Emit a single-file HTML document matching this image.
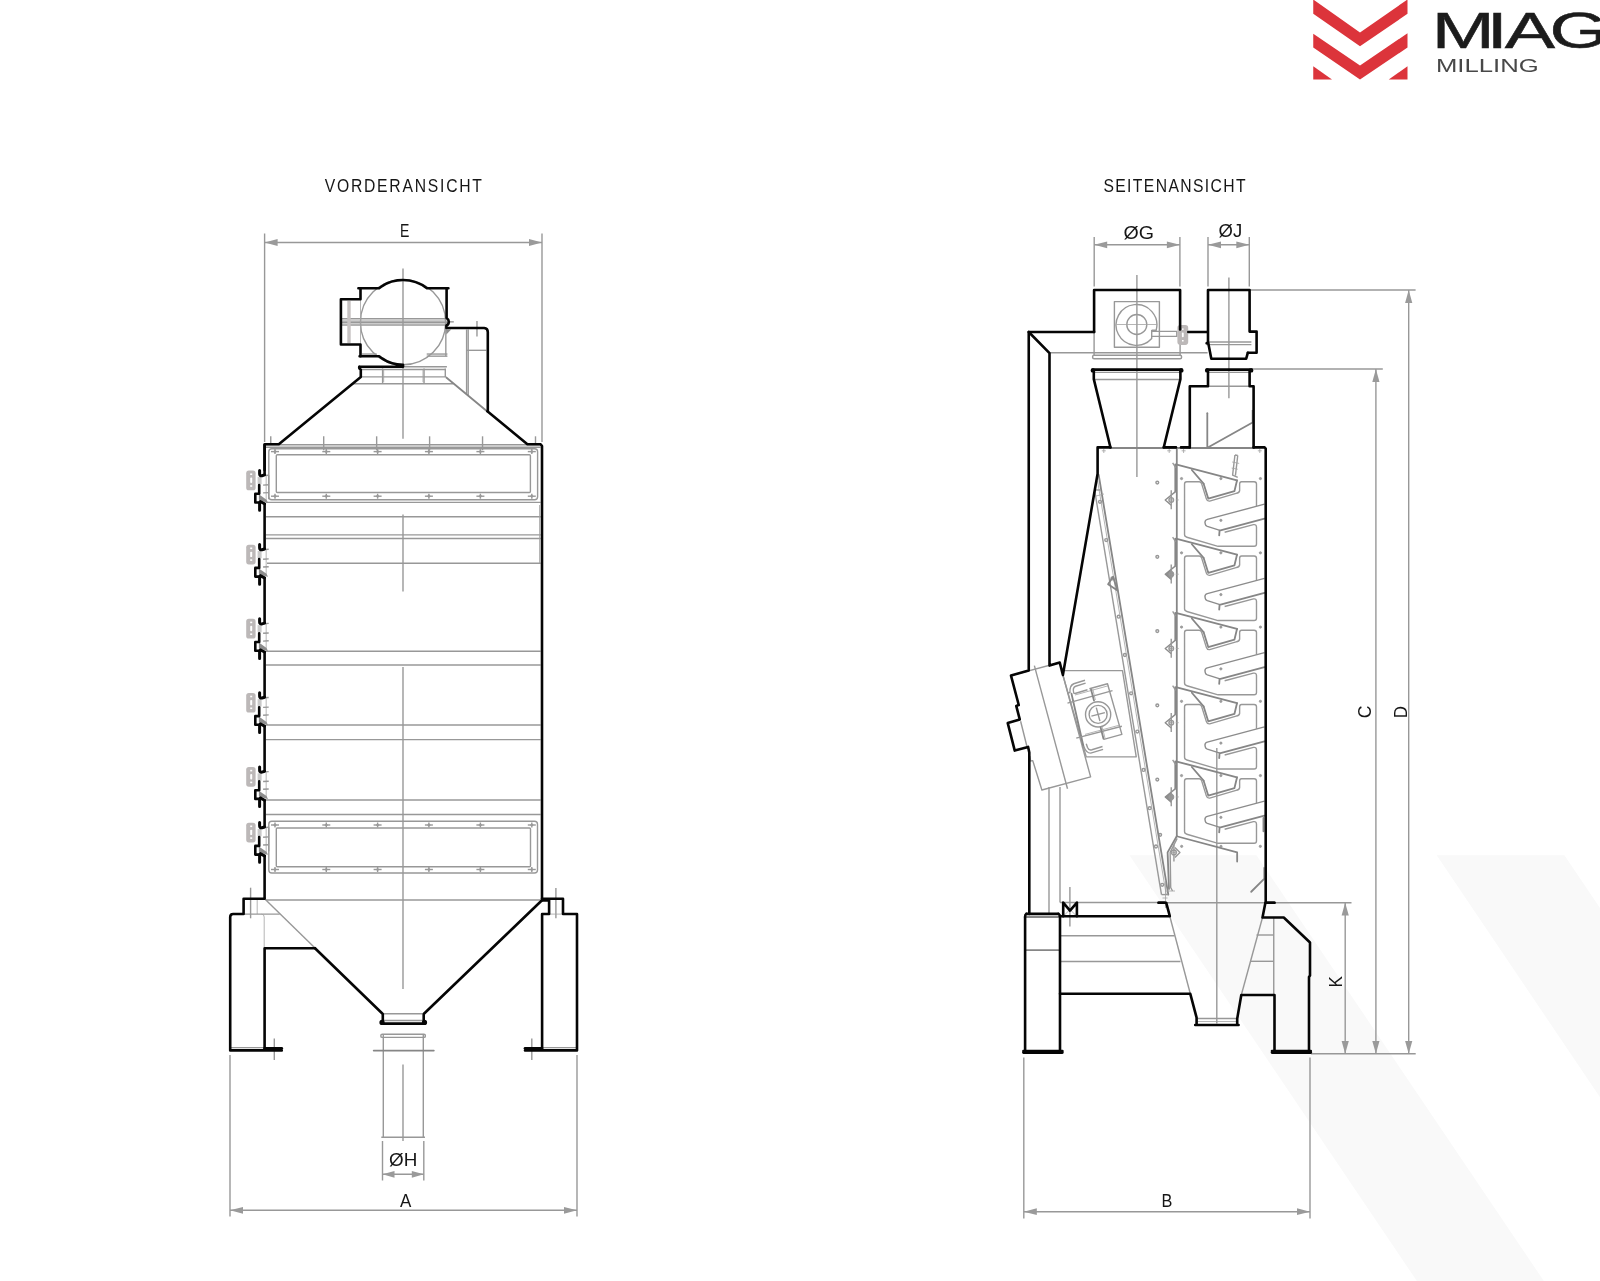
<!DOCTYPE html>
<html lang="de"><head><meta charset="utf-8"><title>MIAG Milling</title>
<style>
html,body{margin:0;padding:0;background:#fff;}
body{width:1600px;height:1281px;overflow:hidden;position:relative;font-family:"Liberation Sans",sans-serif;}
svg{position:absolute;left:0;top:0;display:block;will-change:transform}
.k{fill:none;stroke:#050505;stroke-width:2.6;stroke-linejoin:round;stroke-linecap:round}
.kb{fill:none;stroke:#050505;stroke-width:2.6;stroke-linejoin:miter;stroke-linecap:butt}
.g{fill:none;stroke:#989898;stroke-width:1.4;stroke-linejoin:round}
.g3{fill:none;stroke:#8c8c8c;stroke-width:1.4;stroke-linejoin:round}
.k3{fill:none;stroke:#050505;stroke-width:3;stroke-linejoin:round;stroke-linecap:round}
.g2{fill:none;stroke:#868686;stroke-width:1.8;stroke-linejoin:round;stroke-linecap:round}
.gt{fill:none;stroke:#a2a2a2;stroke-width:.8;stroke-linejoin:round}
.lg{fill:#c6c2c2;stroke:none}
.dg{fill:#8e8e8e;stroke:none}
.dg2{fill:#050505;stroke:none}
.ar{fill:#9a9a9a;stroke:none}
.wm{fill:#f9f9f9;stroke:none}
.t{font-family:"Liberation Sans",sans-serif;font-size:18.5px;fill:#161616;text-anchor:middle}
.tt{font-family:"Liberation Sans",sans-serif;font-size:18.5px;fill:#161616;text-anchor:middle;letter-spacing:2.06px}
.red{fill:#dc343b}
</style></head><body>
<svg width="1600" height="1281" viewBox="0 0 1600 1281">
<polygon class="wm" points="1129.5,855.3 1256.5,855.3 1543.85,1281 1416.85,1281"/>
<polygon class="wm" points="1436.7,855.3 1564.4,855.3 1600,908.04 1600,1097.23"/>
<polygon class="red" points="1313.25,-0.5 1360,32.5 1407.5,-0.5 1407.5,13.75 1360,46.25 1313.25,13.75"/>
<polygon class="red" points="1313.25,33.75 1360,65.5 1407.5,33.25 1407.5,47.5 1360,79.5 1313.25,47.5"/>
<polygon class="red" points="1313.25,66.25 1332,79.5 1313.25,79.5"/>
<polygon class="red" points="1407.5,66.25 1388.75,79.5 1407.5,79.5"/>
<text class="tt" transform="translate(404.2 191.8) scale(0.85 1)">VORDERANSICHT</text>
<text class="tt" style="letter-spacing:1.62px" transform="translate(1175.2 191.8) scale(0.85 1)">SEITENANSICHT</text>
<text transform="scale(1.49 1)" x="960.94 997.82 1009.97 1039.93" y="47.8" style="font-family:'Liberation Sans',sans-serif;font-size:50.7px;fill:#1c1c1c;stroke:#1c1c1c;stroke-width:.5">MIAG</text>
<text transform="scale(1.46 1)" x="983.49" y="71.7" style="font-family:'Liberation Sans',sans-serif;font-size:17.6px;fill:#484848">MILLING</text>
<line class="g" x1="264.6" y1="233.5" x2="264.6" y2="442"/>
<line class="g" x1="542" y1="233.5" x2="542" y2="442"/>
<line class="g" x1="264.6" y1="242.5" x2="542" y2="242.5"/>
<polygon class="ar" points="264.6,242.5 277.6,239.1 277.6,245.9"/>
<polygon class="ar" points="542,242.5 529,239.1 529,245.9"/>
<text class="t" transform="translate(404.6 236.9) scale(0.76 1)">E</text>
<line class="g" x1="403" y1="268.5" x2="403" y2="438.8"/>
<line class="g" x1="403" y1="514.5" x2="403" y2="591.5"/>
<line class="g" x1="403" y1="667" x2="403" y2="989"/>
<line class="g" x1="403" y1="1064.5" x2="403" y2="1141"/>
<circle class="g" cx="403.05" cy="322.2" r="42.6"/>
<line class="g" x1="340.63" y1="318.77" x2="447.96" y2="318.77"/>
<line class="g" x1="340.63" y1="321.11" x2="447.96" y2="321.11"/>
<line class="g" x1="340.63" y1="322.7" x2="447.96" y2="322.7"/>
<line class="g" x1="340.63" y1="325.04" x2="447.96" y2="325.04"/>
<line class="g" x1="447.96" y1="321.85" x2="453.8" y2="321.85"/>
<rect class="lg" x="347.3" y="301" width="3.4" height="42"/>
<line class="gt" x1="360.5" y1="300" x2="360.5" y2="344"/>
<polyline class="g" points="445.83,328.01 445.83,356.17"/>
<polyline class="g" points="426.71,356.17 447.43,356.17"/>
<polyline class="g" points="426.71,354.05 447.43,354.05"/>
<polyline class="g" points="361.88,354.05 376.76,354.05"/>
<polyline class="g" points="403.01,366.8 446.9,366.8"/>
<polyline class="g" points="445.3,368.4 445.3,376.9"/>
<polyline class="g" points="361.35,369.46 445.3,369.46"/>
<polyline class="g" points="361.35,376.9 445.3,376.9"/>
<polyline class="g" points="352.85,383.8 453.27,383.8"/>
<polyline class="g" points="382.6,368.4 382.6,383.8"/>
<polyline class="g" points="424.05,368.4 424.05,383.8"/>
<polyline class="gt" points="383.67,369.46 383.67,382.21"/>
<polyline class="gt" points="422.99,369.46 422.99,382.21"/>
<polygon class="dg" points="446.05,329.61 451.15,329.61 446.37,334.39"/>
<line class="g" x1="466.6" y1="329.6" x2="466.6" y2="393.8"/>
<line class="g" x1="468.2" y1="329.6" x2="468.2" y2="395.2"/>
<polyline class="g" points="467.09,350.33 486.22,350.33"/>
<polyline class="g" points="476.97,321.11 476.97,336.51"/>
<line class="g2" x1="446.3" y1="377.5" x2="487" y2="411.25"/>
<line class="g" x1="266" y1="444.8" x2="540.5" y2="444.8"/>
<line class="g" x1="266" y1="447.3" x2="540.5" y2="447.3"/>
<rect class="g" x="268.8" y="448.8" width="268.8" height="50.9" rx="3"/>
<rect class="g" x="276.3" y="454.8" width="254.1" height="37.7" rx="1"/>
<line class="g" x1="271" y1="451.6" x2="279" y2="451.6"/>
<line class="g" x1="275" y1="449.1" x2="275" y2="454.1"/>
<polygon class="ar" points="273,451.6 275,450 277,451.6 275,453.2"/>
<line class="g" x1="271" y1="496.2" x2="279" y2="496.2"/>
<line class="g" x1="275" y1="493.7" x2="275" y2="498.7"/>
<polygon class="ar" points="273,496.2 275,494.6 277,496.2 275,497.8"/>
<line class="g" x1="322.3" y1="451.6" x2="330.3" y2="451.6"/>
<line class="g" x1="326.3" y1="449.1" x2="326.3" y2="454.1"/>
<polygon class="ar" points="324.3,451.6 326.3,450 328.3,451.6 326.3,453.2"/>
<line class="g" x1="322.3" y1="496.2" x2="330.3" y2="496.2"/>
<line class="g" x1="326.3" y1="493.7" x2="326.3" y2="498.7"/>
<polygon class="ar" points="324.3,496.2 326.3,494.6 328.3,496.2 326.3,497.8"/>
<line class="g" x1="373.6" y1="451.6" x2="381.6" y2="451.6"/>
<line class="g" x1="377.6" y1="449.1" x2="377.6" y2="454.1"/>
<polygon class="ar" points="375.6,451.6 377.6,450 379.6,451.6 377.6,453.2"/>
<line class="g" x1="373.6" y1="496.2" x2="381.6" y2="496.2"/>
<line class="g" x1="377.6" y1="493.7" x2="377.6" y2="498.7"/>
<polygon class="ar" points="375.6,496.2 377.6,494.6 379.6,496.2 377.6,497.8"/>
<line class="g" x1="424.9" y1="451.6" x2="432.9" y2="451.6"/>
<line class="g" x1="428.9" y1="449.1" x2="428.9" y2="454.1"/>
<polygon class="ar" points="426.9,451.6 428.9,450 430.9,451.6 428.9,453.2"/>
<line class="g" x1="424.9" y1="496.2" x2="432.9" y2="496.2"/>
<line class="g" x1="428.9" y1="493.7" x2="428.9" y2="498.7"/>
<polygon class="ar" points="426.9,496.2 428.9,494.6 430.9,496.2 428.9,497.8"/>
<line class="g" x1="476.4" y1="451.6" x2="484.4" y2="451.6"/>
<line class="g" x1="480.4" y1="449.1" x2="480.4" y2="454.1"/>
<polygon class="ar" points="478.4,451.6 480.4,450 482.4,451.6 480.4,453.2"/>
<line class="g" x1="476.4" y1="496.2" x2="484.4" y2="496.2"/>
<line class="g" x1="480.4" y1="493.7" x2="480.4" y2="498.7"/>
<polygon class="ar" points="478.4,496.2 480.4,494.6 482.4,496.2 480.4,497.8"/>
<line class="g" x1="527.8" y1="451.6" x2="535.8" y2="451.6"/>
<line class="g" x1="531.8" y1="449.1" x2="531.8" y2="454.1"/>
<polygon class="ar" points="529.8,451.6 531.8,450 533.8,451.6 531.8,453.2"/>
<line class="g" x1="527.8" y1="496.2" x2="535.8" y2="496.2"/>
<line class="g" x1="531.8" y1="493.7" x2="531.8" y2="498.7"/>
<polygon class="ar" points="529.8,496.2 531.8,494.6 533.8,496.2 531.8,497.8"/>
<line class="g" x1="270.75" y1="436.3" x2="270.75" y2="443.3"/>
<line class="g" x1="323.7" y1="436.3" x2="323.7" y2="450.2"/>
<line class="g" x1="376.65" y1="436.3" x2="376.65" y2="450.2"/>
<line class="g" x1="429.6" y1="436.3" x2="429.6" y2="450.2"/>
<line class="g" x1="482.55" y1="436.3" x2="482.55" y2="450.2"/>
<line class="g" x1="535.5" y1="436.3" x2="535.5" y2="443.3"/>
<rect class="g" x="268.8" y="821.3" width="268.7" height="51.7" rx="3"/>
<rect class="g" x="276.3" y="828" width="254.2" height="38.8" rx="1"/>
<line class="g" x1="271" y1="825" x2="279" y2="825"/>
<line class="g" x1="275" y1="822.5" x2="275" y2="827.5"/>
<polygon class="ar" points="273,825 275,823.4 277,825 275,826.6"/>
<line class="g" x1="271" y1="869.5" x2="279" y2="869.5"/>
<line class="g" x1="275" y1="867" x2="275" y2="872"/>
<polygon class="ar" points="273,869.5 275,867.9 277,869.5 275,871.1"/>
<line class="g" x1="322.3" y1="825" x2="330.3" y2="825"/>
<line class="g" x1="326.3" y1="822.5" x2="326.3" y2="827.5"/>
<polygon class="ar" points="324.3,825 326.3,823.4 328.3,825 326.3,826.6"/>
<line class="g" x1="322.3" y1="869.5" x2="330.3" y2="869.5"/>
<line class="g" x1="326.3" y1="867" x2="326.3" y2="872"/>
<polygon class="ar" points="324.3,869.5 326.3,867.9 328.3,869.5 326.3,871.1"/>
<line class="g" x1="373.6" y1="825" x2="381.6" y2="825"/>
<line class="g" x1="377.6" y1="822.5" x2="377.6" y2="827.5"/>
<polygon class="ar" points="375.6,825 377.6,823.4 379.6,825 377.6,826.6"/>
<line class="g" x1="373.6" y1="869.5" x2="381.6" y2="869.5"/>
<line class="g" x1="377.6" y1="867" x2="377.6" y2="872"/>
<polygon class="ar" points="375.6,869.5 377.6,867.9 379.6,869.5 377.6,871.1"/>
<line class="g" x1="424.9" y1="825" x2="432.9" y2="825"/>
<line class="g" x1="428.9" y1="822.5" x2="428.9" y2="827.5"/>
<polygon class="ar" points="426.9,825 428.9,823.4 430.9,825 428.9,826.6"/>
<line class="g" x1="424.9" y1="869.5" x2="432.9" y2="869.5"/>
<line class="g" x1="428.9" y1="867" x2="428.9" y2="872"/>
<polygon class="ar" points="426.9,869.5 428.9,867.9 430.9,869.5 428.9,871.1"/>
<line class="g" x1="476.4" y1="825" x2="484.4" y2="825"/>
<line class="g" x1="480.4" y1="822.5" x2="480.4" y2="827.5"/>
<polygon class="ar" points="478.4,825 480.4,823.4 482.4,825 480.4,826.6"/>
<line class="g" x1="476.4" y1="869.5" x2="484.4" y2="869.5"/>
<line class="g" x1="480.4" y1="867" x2="480.4" y2="872"/>
<polygon class="ar" points="478.4,869.5 480.4,867.9 482.4,869.5 480.4,871.1"/>
<line class="g" x1="527.8" y1="825" x2="535.8" y2="825"/>
<line class="g" x1="531.8" y1="822.5" x2="531.8" y2="827.5"/>
<polygon class="ar" points="529.8,825 531.8,823.4 533.8,825 531.8,826.6"/>
<line class="g" x1="527.8" y1="869.5" x2="535.8" y2="869.5"/>
<line class="g" x1="531.8" y1="867" x2="531.8" y2="872"/>
<polygon class="ar" points="529.8,869.5 531.8,867.9 533.8,869.5 531.8,871.1"/>
<line class="g" x1="266" y1="502.4" x2="540.6" y2="502.4"/>
<line class="g" x1="266" y1="516.8" x2="540.6" y2="516.8"/>
<line class="g" x1="266" y1="534.9" x2="540.6" y2="534.9"/>
<line class="g" x1="266" y1="538.5" x2="540.6" y2="538.5"/>
<line class="g" x1="266" y1="563.3" x2="540.6" y2="563.3"/>
<line class="g" x1="266" y1="651.3" x2="540.6" y2="651.3"/>
<line class="g" x1="266" y1="665" x2="540.6" y2="665"/>
<line class="g" x1="266" y1="725" x2="540.6" y2="725"/>
<line class="g" x1="266" y1="739.6" x2="540.6" y2="739.6"/>
<line class="g" x1="266" y1="800" x2="540.6" y2="800"/>
<line class="g" x1="266" y1="814.5" x2="540.6" y2="814.5"/>
<line class="gt" x1="539.5" y1="505" x2="539.5" y2="563"/>
<line class="g" x1="266" y1="900" x2="540" y2="900"/>
<rect fill="#bcb8b8" x="246.2" y="470.6" width="9.4" height="19.7" rx="2.6"/>
<rect fill="#fff" x="250.2" y="477.6" width="2" height="5.4" rx=".9"/>
<rect fill="#fff" x="250.2" y="473.4" width="2" height="1.6"/>
<rect fill="#fff" x="250.2" y="485.2" width="2" height="1.6"/>
<rect fill="#c9c9c9" x="257.6" y="476.9" width="4" height="7.2"/>
<rect fill="#cfcfcf" x="265.5" y="475.5" width="1.5" height="26.3"/>
<line class="g" x1="263.1" y1="475.5" x2="268.7" y2="475.2"/>
<line class="g" x1="263.1" y1="485.1" x2="268.7" y2="484.8"/>
<line class="g" x1="263.1" y1="492.9" x2="268.7" y2="492.6"/>
<polygon class="dg" points="258.9,494.3 266.5,499.7 268,502.7 265.5,502.2 258.9,499.7"/>
<line class="g" x1="268.7" y1="475.2" x2="268.7" y2="499.2"/>
<rect fill="#bcb8b8" x="246.2" y="544.7" width="9.4" height="19.7" rx="2.6"/>
<rect fill="#fff" x="250.2" y="551.7" width="2" height="5.4" rx=".9"/>
<rect fill="#fff" x="250.2" y="547.5" width="2" height="1.6"/>
<rect fill="#fff" x="250.2" y="559.3" width="2" height="1.6"/>
<rect fill="#c9c9c9" x="257.6" y="551" width="4" height="7.2"/>
<rect fill="#cfcfcf" x="265.5" y="549.6" width="1.5" height="26.3"/>
<line class="g" x1="263.1" y1="549.6" x2="268.7" y2="549.3"/>
<line class="g" x1="263.1" y1="559.2" x2="268.7" y2="558.9"/>
<line class="g" x1="263.1" y1="567" x2="268.7" y2="566.7"/>
<polygon class="dg" points="258.9,568.4 266.5,573.8 268,576.8 265.5,576.3 258.9,573.8"/>
<rect fill="#bcb8b8" x="246.2" y="618.8" width="9.4" height="19.7" rx="2.6"/>
<rect fill="#fff" x="250.2" y="625.8" width="2" height="5.4" rx=".9"/>
<rect fill="#fff" x="250.2" y="621.6" width="2" height="1.6"/>
<rect fill="#fff" x="250.2" y="633.4" width="2" height="1.6"/>
<rect fill="#c9c9c9" x="257.6" y="625.1" width="4" height="7.2"/>
<rect fill="#cfcfcf" x="265.5" y="623.7" width="1.5" height="26.3"/>
<line class="g" x1="263.1" y1="623.7" x2="268.7" y2="623.4"/>
<line class="g" x1="263.1" y1="633.3" x2="268.7" y2="633"/>
<line class="g" x1="263.1" y1="641.1" x2="268.7" y2="640.8"/>
<polygon class="dg" points="258.9,642.5 266.5,647.9 268,650.9 265.5,650.4 258.9,647.9"/>
<rect fill="#bcb8b8" x="246.2" y="692.9" width="9.4" height="19.7" rx="2.6"/>
<rect fill="#fff" x="250.2" y="699.9" width="2" height="5.4" rx=".9"/>
<rect fill="#fff" x="250.2" y="695.7" width="2" height="1.6"/>
<rect fill="#fff" x="250.2" y="707.5" width="2" height="1.6"/>
<rect fill="#c9c9c9" x="257.6" y="699.2" width="4" height="7.2"/>
<rect fill="#cfcfcf" x="265.5" y="697.8" width="1.5" height="26.3"/>
<line class="g" x1="263.1" y1="697.8" x2="268.7" y2="697.5"/>
<line class="g" x1="263.1" y1="707.4" x2="268.7" y2="707.1"/>
<line class="g" x1="263.1" y1="715.2" x2="268.7" y2="714.9"/>
<polygon class="dg" points="258.9,716.6 266.5,722 268,725 265.5,724.5 258.9,722"/>
<rect fill="#bcb8b8" x="246.2" y="767" width="9.4" height="19.7" rx="2.6"/>
<rect fill="#fff" x="250.2" y="774" width="2" height="5.4" rx=".9"/>
<rect fill="#fff" x="250.2" y="769.8" width="2" height="1.6"/>
<rect fill="#fff" x="250.2" y="781.6" width="2" height="1.6"/>
<rect fill="#c9c9c9" x="257.6" y="773.3" width="4" height="7.2"/>
<rect fill="#cfcfcf" x="265.5" y="771.9" width="1.5" height="26.3"/>
<line class="g" x1="263.1" y1="771.9" x2="268.7" y2="771.6"/>
<line class="g" x1="263.1" y1="781.5" x2="268.7" y2="781.2"/>
<line class="g" x1="263.1" y1="789.3" x2="268.7" y2="789"/>
<polygon class="dg" points="258.9,790.7 266.5,796.1 268,799.1 265.5,798.6 258.9,796.1"/>
<rect fill="#bcb8b8" x="246.2" y="822.7" width="9.4" height="19.7" rx="2.6"/>
<rect fill="#fff" x="250.2" y="829.7" width="2" height="5.4" rx=".9"/>
<rect fill="#fff" x="250.2" y="825.5" width="2" height="1.6"/>
<rect fill="#fff" x="250.2" y="837.3" width="2" height="1.6"/>
<rect fill="#c9c9c9" x="257.6" y="829" width="4" height="7.2"/>
<rect fill="#cfcfcf" x="265.5" y="827.6" width="1.5" height="26.3"/>
<line class="g" x1="263.1" y1="827.6" x2="268.7" y2="827.3"/>
<line class="g" x1="263.1" y1="837.2" x2="268.7" y2="836.9"/>
<line class="g" x1="263.1" y1="845" x2="268.7" y2="844.7"/>
<polygon class="dg" points="258.9,846.4 266.5,851.8 268,854.8 265.5,854.3 258.9,851.8"/>
<line class="g" x1="268.7" y1="827.3" x2="268.7" y2="851.3"/>
<line class="g" x1="265.1" y1="899.3" x2="315" y2="948"/>
<polygon class="dg2" points="540.6,899.4 549.2,899.4 549.2,901.8 540,901.8"/>
<line class="g" x1="250.6" y1="887.7" x2="250.6" y2="918.3"/>
<line class="gt" x1="257.2" y1="900" x2="257.2" y2="914"/>
<line class="g" x1="244" y1="914.1" x2="279.7" y2="914.1"/>
<path class="gt" d="M261.5,914.1 Q264.2,914.3 264.2,917 V947"/>
<line class="g" x1="555.9" y1="888" x2="555.9" y2="918.3"/>
<line class="gt" x1="549.5" y1="914.1" x2="562.5" y2="914.1"/>
<line class="g" x1="274.3" y1="1038.5" x2="274.3" y2="1060"/>
<line class="g" x1="531.8" y1="1038.5" x2="531.8" y2="1060"/>
<line class="g" x1="231" y1="1047.6" x2="264" y2="1047.6"/>
<line class="g" x1="543" y1="1047.6" x2="577" y2="1047.6"/>
<line class="g" x1="384" y1="1013.8" x2="422.5" y2="1013.8"/>
<line class="g" x1="384" y1="1020.5" x2="422.5" y2="1020.5"/>
<rect class="g" x="380.8" y="1034.3" width="44.6" height="3.1" rx="1.5"/>
<line class="g" x1="383.3" y1="1035" x2="383.3" y2="1137.3"/>
<line class="g" x1="423.3" y1="1035" x2="423.3" y2="1137.3"/>
<line class="g2" x1="373.7" y1="1050.6" x2="433.8" y2="1050.6"/>
<line class="g" x1="381.3" y1="1137.3" x2="425" y2="1137.3"/>
<line class="g" x1="382.5" y1="1141" x2="382.5" y2="1180.5"/>
<line class="g" x1="423.8" y1="1141" x2="423.8" y2="1180.5"/>
<line class="g" x1="382.5" y1="1174.3" x2="423.8" y2="1174.3"/>
<polygon class="ar" points="382.5,1174.3 394.5,1170.9 394.5,1177.7"/>
<polygon class="ar" points="423.8,1174.3 411.8,1170.9 411.8,1177.7"/>
<text class="t" transform="translate(403.2 1166) scale(1.02 1)">ØH</text>
<line class="g" x1="230" y1="1055" x2="230" y2="1216.5"/>
<line class="g" x1="577" y1="1055" x2="577" y2="1216.5"/>
<line class="g" x1="230" y1="1210.3" x2="577" y2="1210.3"/>
<polygon class="ar" points="230,1210.3 243,1206.9 243,1213.7"/>
<polygon class="ar" points="577,1210.3 564,1206.9 564,1213.7"/>
<text class="t" transform="translate(405.6 1207.3) scale(0.92 1)">A</text>
<line class="g" x1="1094.2" y1="236.9" x2="1094.2" y2="286.5"/>
<line class="g" x1="1179.9" y1="236.9" x2="1179.9" y2="286.5"/>
<line class="g" x1="1094.2" y1="244.8" x2="1179.9" y2="244.8"/>
<polygon class="ar" points="1094.2,244.8 1107.2,241.4 1107.2,248.2"/>
<polygon class="ar" points="1179.9,244.8 1166.9,241.4 1166.9,248.2"/>
<line class="g" x1="1208" y1="236.9" x2="1208" y2="286.5"/>
<line class="g" x1="1249.3" y1="236.9" x2="1249.3" y2="286.5"/>
<line class="g" x1="1208" y1="244.8" x2="1249.3" y2="244.8"/>
<polygon class="ar" points="1208,244.8 1221,241.4 1221,248.2"/>
<polygon class="ar" points="1249.3,244.8 1236.3,241.4 1236.3,248.2"/>
<text class="t" transform="translate(1138.7 239.3) scale(1.06 1)">ØG</text>
<text class="t" transform="translate(1230.4 237) scale(1 1)">ØJ</text>
<line class="g" x1="1136.9" y1="275" x2="1136.9" y2="477"/>
<line class="g" x1="1228.9" y1="277.5" x2="1228.9" y2="398.3"/>
<line class="g" x1="1216.8" y1="748" x2="1216.8" y2="1023.5"/>
<line class="g" x1="1250" y1="290" x2="1415.6" y2="290"/>
<line class="g" x1="1252" y1="369" x2="1382.8" y2="369"/>
<line class="g" x1="1311" y1="1053.8" x2="1415.7" y2="1053.8"/>
<line class="g" x1="1275" y1="902.7" x2="1351.5" y2="902.7"/>
<line class="g" x1="1345.2" y1="902.7" x2="1345.2" y2="1053.8"/>
<polygon class="ar" points="1345.2,902.7 1341.6,915.6 1348.8,915.6"/>
<polygon class="ar" points="1345.2,1053.8 1341.6,1040.9 1348.8,1040.9"/>
<line class="g" x1="1375.9" y1="369" x2="1375.9" y2="1053.8"/>
<polygon class="ar" points="1375.9,369 1372.3,381.9 1379.5,381.9"/>
<polygon class="ar" points="1375.9,1053.8 1372.3,1040.9 1379.5,1040.9"/>
<line class="g" x1="1408.7" y1="290" x2="1408.7" y2="1053.8"/>
<polygon class="ar" points="1408.7,290 1405.1,302.9 1412.3,302.9"/>
<polygon class="ar" points="1408.7,1053.8 1405.1,1040.9 1412.3,1040.9"/>
<text class="t" transform="translate(1371.3 712) rotate(-90) scale(0.95 1)">C</text>
<text class="t" transform="translate(1406.7 712.2) rotate(-90) scale(0.92 1)">D</text>
<text class="t" transform="translate(1342.2 981.9) rotate(-90) scale(0.92 1)">K</text>
<line class="g" x1="1023.8" y1="1057.5" x2="1023.8" y2="1218.5"/>
<line class="g" x1="1310" y1="1057.5" x2="1310" y2="1218.5"/>
<line class="g" x1="1023.8" y1="1211.7" x2="1310" y2="1211.7"/>
<polygon class="ar" points="1023.8,1211.7 1036.8,1208.3 1036.8,1215.1"/>
<polygon class="ar" points="1310,1211.7 1297,1208.3 1297,1215.1"/>
<text class="t" transform="translate(1167 1207.3) scale(0.88 1)">B</text>
<line class="g" x1="1049.5" y1="352.8" x2="1207.6" y2="352.8"/>
<line class="g" x1="1049" y1="787" x2="1049" y2="913"/>
<line class="g" x1="1060" y1="787" x2="1060" y2="902.5"/>
<line class="g" x1="1060" y1="902.5" x2="1166" y2="902.5"/>
<line class="g" x1="1167" y1="902.7" x2="1265" y2="902.7"/>
<line class="g" x1="1094.1" y1="331.6" x2="1094.1" y2="356"/>
<line class="g" x1="1180.1" y1="329.5" x2="1180.1" y2="356"/>
<rect class="g" x="1092.6" y="355.3" width="89" height="3.4" rx="1.5"/>
<rect class="g" x="1114.4" y="301.6" width="45" height="45.6"/>
<circle class="g" cx="1136.8" cy="324.5" r="10"/>
<path class="g" d="M1151.7,330.1 H1156.2 A20.4,20.4 0 1 0 1151.7,338.5 V330.1 M1151.7,331.4 H1176.8 V336.4 H1151.7"/>
<line class="gt" x1="1116.4" y1="324.5" x2="1157" y2="324.5"/>
<rect fill="#bcb8b8" x="1177.4" y="324.9" width="10.8" height="20" rx="2.8"/>
<rect fill="#fff" x="1181.9" y="332.6" width="1.8" height="4.6" rx=".8"/>
<rect fill="#fff" x="1182" y="328.4" width="1.6" height="1.5"/>
<rect fill="#fff" x="1182" y="340" width="1.6" height="1.5"/>
<line class="g" x1="1206.5" y1="342" x2="1251.4" y2="342"/>
<line class="g" x1="1206.5" y1="344.6" x2="1251.4" y2="344.6"/>
<line class="gt" x1="1208.5" y1="290.5" x2="1208.5" y2="342"/>
<line class="g" x1="1094" y1="372.4" x2="1180" y2="372.4"/>
<line class="g" x1="1094" y1="379.5" x2="1180" y2="379.5"/>
<line class="g" x1="1208" y1="372.4" x2="1249.6" y2="372.4"/>
<line class="g" x1="1208" y1="386.2" x2="1249.6" y2="386.2"/>
<line class="g2" x1="1208.3" y1="447.3" x2="1252.1" y2="422.8"/>
<line class="g2" x1="1207.3" y1="413.2" x2="1207.3" y2="447.3"/>
<line class="g" x1="1252.4" y1="410" x2="1252.4" y2="423"/>
<line class="g2" x1="1110" y1="448" x2="1254" y2="448"/>
<line class="g2" x1="1176.8" y1="449" x2="1176.8" y2="836"/>
<line class="g2" x1="1175.3" y1="464.5" x2="1175.3" y2="491.3"/>
<line class="g2" x1="1175.3" y1="538.75" x2="1175.3" y2="565.55"/>
<line class="g2" x1="1175.3" y1="613" x2="1175.3" y2="639.8"/>
<line class="g2" x1="1175.3" y1="687.25" x2="1175.3" y2="714.05"/>
<line class="g2" x1="1175.3" y1="761.5" x2="1175.3" y2="788.3"/>
<line class="gt" x1="1103.8" y1="449" x2="1103.8" y2="453"/>
<line class="gt" x1="1101.8" y1="450.8" x2="1105.8" y2="450.8"/>
<line class="gt" x1="1169.2" y1="449" x2="1169.2" y2="453"/>
<line class="gt" x1="1167.2" y1="450.8" x2="1171.2" y2="450.8"/>
<line class="gt" x1="1183.6" y1="449" x2="1183.6" y2="453"/>
<line class="gt" x1="1181.6" y1="450.8" x2="1185.6" y2="450.8"/>
<line class="gt" x1="1259.8" y1="449" x2="1259.8" y2="453"/>
<line class="gt" x1="1257.8" y1="450.8" x2="1261.8" y2="450.8"/>
<polyline class="g2" points="1176.86,464.54 1237,480.47"/>
<polyline class="g2" points="1191.85,469.98 1203.56,483.56"/>
<polyline class="g2" points="1203.56,483.56 1208.24,498.55 1234.47,491.05 1237,480.47"/>
<polyline class="g" points="1172.65,462.95 1175.74,467.63"/>
<path class="g" d="M1256.49,506.04 L1256.49,484.03 Q1256.49,481.69 1254.15,481.69 L1241.5,481.69 Q1239.63,481.69 1239.63,484.03 L1239.63,490.59 Q1239.44,492.65 1236.07,493.4 L1209.65,501.08 Q1207.12,501.36 1206.37,498.83 L1201.69,483.84 Q1201.22,481.69 1199.34,481.69 L1186.7,481.69 Q1184.54,481.69 1184.54,484.03 L1184.54,534.61 Q1184.54,536.67 1186.89,537.24 L1218.08,546.32 L1254.15,546.32 Q1256.49,546.32 1256.49,543.98 L1256.49,527.12 Q1256.3,524.12 1253.49,524.68 L1224.64,532.27"/>
<path class="g3" d="M1264.45,504.17 L1207.31,519.44 Q1204.78,520.19 1204.96,522.44 L1205.34,524.31 Q1205.53,525.71 1207.31,526.37 L1219.95,530.4"/>
<polyline class="g2" points="1219.2,535.36 1219.58,530.68 1264.45,518.69"/>
<circle cx="1181.55" cy="478.59" r="1.15" fill="#a0a0a0" stroke="#8c8c8c" stroke-width=".7"/>
<circle cx="1220.89" cy="478.59" r="1.15" fill="#a0a0a0" stroke="#8c8c8c" stroke-width=".7"/>
<circle cx="1260.42" cy="478.59" r="1.15" fill="#a0a0a0" stroke="#8c8c8c" stroke-width=".7"/>
<circle cx="1220.89" cy="520.37" r="1.15" fill="#a0a0a0" stroke="#8c8c8c" stroke-width=".7"/>
<circle class="g" cx="1171.24" cy="499.95" r="2.3"/>
<polyline class="g3" points="1171.24,505.35 1165.24,499.95 1176.44,490.85"/>
<line class="gt" x1="1168.94" y1="499.95" x2="1173.54" y2="499.95"/>
<line class="gt" x1="1175.74" y1="499.95" x2="1178.74" y2="499.95"/>
<line class="g" x1="1171.24" y1="490.35" x2="1171.24" y2="509.15"/>
<circle class="g" cx="1157.3" cy="482.58" r="1.4"/>
<polyline class="g2" points="1176.86,538.79 1237,554.72"/>
<polyline class="g2" points="1191.85,544.23 1203.56,557.81"/>
<polyline class="g2" points="1203.56,557.81 1208.24,572.8 1234.47,565.3 1237,554.72"/>
<polyline class="g" points="1172.65,537.2 1175.74,541.88"/>
<path class="g" d="M1256.49,580.29 L1256.49,558.28 Q1256.49,555.94 1254.15,555.94 L1241.5,555.94 Q1239.63,555.94 1239.63,558.28 L1239.63,564.84 Q1239.44,566.9 1236.07,567.65 L1209.65,575.33 Q1207.12,575.61 1206.37,573.08 L1201.69,558.09 Q1201.22,555.94 1199.34,555.94 L1186.7,555.94 Q1184.54,555.94 1184.54,558.28 L1184.54,608.86 Q1184.54,610.92 1186.89,611.49 L1218.08,620.57 L1254.15,620.57 Q1256.49,620.57 1256.49,618.23 L1256.49,601.37 Q1256.3,598.37 1253.49,598.93 L1224.64,606.52"/>
<path class="g3" d="M1264.45,578.42 L1207.31,593.69 Q1204.78,594.44 1204.96,596.69 L1205.34,598.56 Q1205.53,599.96 1207.31,600.62 L1219.95,604.65"/>
<polyline class="g2" points="1219.2,609.61 1219.58,604.93 1264.45,592.94"/>
<circle cx="1181.55" cy="552.84" r="1.15" fill="#a0a0a0" stroke="#8c8c8c" stroke-width=".7"/>
<circle cx="1220.89" cy="552.84" r="1.15" fill="#a0a0a0" stroke="#8c8c8c" stroke-width=".7"/>
<circle cx="1260.42" cy="552.84" r="1.15" fill="#a0a0a0" stroke="#8c8c8c" stroke-width=".7"/>
<circle cx="1220.89" cy="594.62" r="1.15" fill="#a0a0a0" stroke="#8c8c8c" stroke-width=".7"/>
<polygon class="dg" points="1165.24,574.2 1171.24,569.2 1174.24,574.2 1171.24,579.6"/>
<circle class="g" cx="1171.24" cy="574.2" r="2.3"/>
<polyline class="g3" points="1171.24,579.6 1165.24,574.2 1176.44,565.1"/>
<line class="gt" x1="1168.94" y1="574.2" x2="1173.54" y2="574.2"/>
<line class="gt" x1="1175.74" y1="574.2" x2="1178.74" y2="574.2"/>
<line class="g" x1="1171.24" y1="564.6" x2="1171.24" y2="583.4"/>
<circle class="g" cx="1157.3" cy="556.83" r="1.4"/>
<polyline class="g2" points="1176.86,613.04 1237,628.97"/>
<polyline class="g2" points="1191.85,618.48 1203.56,632.06"/>
<polyline class="g2" points="1203.56,632.06 1208.24,647.05 1234.47,639.55 1237,628.97"/>
<polyline class="g" points="1172.65,611.45 1175.74,616.13"/>
<path class="g" d="M1256.49,654.54 L1256.49,632.53 Q1256.49,630.19 1254.15,630.19 L1241.5,630.19 Q1239.63,630.19 1239.63,632.53 L1239.63,639.09 Q1239.44,641.15 1236.07,641.9 L1209.65,649.58 Q1207.12,649.86 1206.37,647.33 L1201.69,632.34 Q1201.22,630.19 1199.34,630.19 L1186.7,630.19 Q1184.54,630.19 1184.54,632.53 L1184.54,683.11 Q1184.54,685.17 1186.89,685.74 L1218.08,694.82 L1254.15,694.82 Q1256.49,694.82 1256.49,692.48 L1256.49,675.62 Q1256.3,672.62 1253.49,673.18 L1224.64,680.77"/>
<path class="g3" d="M1264.45,652.67 L1207.31,667.94 Q1204.78,668.69 1204.96,670.94 L1205.34,672.81 Q1205.53,674.21 1207.31,674.87 L1219.95,678.9"/>
<polyline class="g2" points="1219.2,683.86 1219.58,679.18 1264.45,667.19"/>
<circle cx="1181.55" cy="627.09" r="1.15" fill="#a0a0a0" stroke="#8c8c8c" stroke-width=".7"/>
<circle cx="1220.89" cy="627.09" r="1.15" fill="#a0a0a0" stroke="#8c8c8c" stroke-width=".7"/>
<circle cx="1260.42" cy="627.09" r="1.15" fill="#a0a0a0" stroke="#8c8c8c" stroke-width=".7"/>
<circle cx="1220.89" cy="668.87" r="1.15" fill="#a0a0a0" stroke="#8c8c8c" stroke-width=".7"/>
<circle class="g" cx="1171.24" cy="648.45" r="2.3"/>
<polyline class="g3" points="1171.24,653.85 1165.24,648.45 1176.44,639.35"/>
<line class="gt" x1="1168.94" y1="648.45" x2="1173.54" y2="648.45"/>
<line class="gt" x1="1175.74" y1="648.45" x2="1178.74" y2="648.45"/>
<line class="g" x1="1171.24" y1="638.85" x2="1171.24" y2="657.65"/>
<circle class="g" cx="1157.3" cy="631.08" r="1.4"/>
<polyline class="g2" points="1176.86,687.29 1237,703.22"/>
<polyline class="g2" points="1191.85,692.73 1203.56,706.31"/>
<polyline class="g2" points="1203.56,706.31 1208.24,721.3 1234.47,713.8 1237,703.22"/>
<polyline class="g" points="1172.65,685.7 1175.74,690.38"/>
<path class="g" d="M1256.49,728.79 L1256.49,706.78 Q1256.49,704.44 1254.15,704.44 L1241.5,704.44 Q1239.63,704.44 1239.63,706.78 L1239.63,713.34 Q1239.44,715.4 1236.07,716.15 L1209.65,723.83 Q1207.12,724.11 1206.37,721.58 L1201.69,706.59 Q1201.22,704.44 1199.34,704.44 L1186.7,704.44 Q1184.54,704.44 1184.54,706.78 L1184.54,757.36 Q1184.54,759.42 1186.89,759.99 L1218.08,769.07 L1254.15,769.07 Q1256.49,769.07 1256.49,766.73 L1256.49,749.87 Q1256.3,746.87 1253.49,747.43 L1224.64,755.02"/>
<path class="g3" d="M1264.45,726.92 L1207.31,742.19 Q1204.78,742.94 1204.96,745.19 L1205.34,747.06 Q1205.53,748.46 1207.31,749.12 L1219.95,753.15"/>
<polyline class="g2" points="1219.2,758.11 1219.58,753.43 1264.45,741.44"/>
<circle cx="1181.55" cy="701.34" r="1.15" fill="#a0a0a0" stroke="#8c8c8c" stroke-width=".7"/>
<circle cx="1220.89" cy="701.34" r="1.15" fill="#a0a0a0" stroke="#8c8c8c" stroke-width=".7"/>
<circle cx="1260.42" cy="701.34" r="1.15" fill="#a0a0a0" stroke="#8c8c8c" stroke-width=".7"/>
<circle cx="1220.89" cy="743.12" r="1.15" fill="#a0a0a0" stroke="#8c8c8c" stroke-width=".7"/>
<circle class="g" cx="1171.24" cy="722.7" r="2.3"/>
<polyline class="g3" points="1171.24,728.1 1165.24,722.7 1176.44,713.6"/>
<line class="gt" x1="1168.94" y1="722.7" x2="1173.54" y2="722.7"/>
<line class="gt" x1="1175.74" y1="722.7" x2="1178.74" y2="722.7"/>
<line class="g" x1="1171.24" y1="713.1" x2="1171.24" y2="731.9"/>
<circle class="g" cx="1157.3" cy="705.33" r="1.4"/>
<polyline class="g2" points="1176.86,761.54 1237,777.47"/>
<polyline class="g2" points="1191.85,766.98 1203.56,780.56"/>
<polyline class="g2" points="1203.56,780.56 1208.24,795.55 1234.47,788.05 1237,777.47"/>
<polyline class="g" points="1172.65,759.95 1175.74,764.63"/>
<path class="g" d="M1256.49,803.04 L1256.49,781.03 Q1256.49,778.69 1254.15,778.69 L1241.5,778.69 Q1239.63,778.69 1239.63,781.03 L1239.63,787.59 Q1239.44,789.65 1236.07,790.4 L1209.65,798.08 Q1207.12,798.36 1206.37,795.83 L1201.69,780.84 Q1201.22,778.69 1199.34,778.69 L1186.7,778.69 Q1184.54,778.69 1184.54,781.03 L1184.54,831.61 Q1184.54,833.67 1186.89,834.24 L1218.08,843.32 L1254.15,843.32 Q1256.49,843.32 1256.49,840.98 L1256.49,824.12 Q1256.3,821.12 1253.49,821.68 L1224.64,829.27"/>
<path class="g3" d="M1264.45,801.17 L1207.31,816.44 Q1204.78,817.19 1204.96,819.44 L1205.34,821.31 Q1205.53,822.71 1207.31,823.37 L1219.95,827.4"/>
<polyline class="g2" points="1219.2,832.36 1219.58,827.68 1264.45,815.69"/>
<circle cx="1181.55" cy="775.59" r="1.15" fill="#a0a0a0" stroke="#8c8c8c" stroke-width=".7"/>
<circle cx="1220.89" cy="775.59" r="1.15" fill="#a0a0a0" stroke="#8c8c8c" stroke-width=".7"/>
<circle cx="1260.42" cy="775.59" r="1.15" fill="#a0a0a0" stroke="#8c8c8c" stroke-width=".7"/>
<circle cx="1220.89" cy="817.37" r="1.15" fill="#a0a0a0" stroke="#8c8c8c" stroke-width=".7"/>
<polygon class="dg" points="1165.24,796.95 1171.24,791.95 1174.24,796.95 1171.24,802.35"/>
<circle class="g" cx="1171.24" cy="796.95" r="2.3"/>
<polyline class="g3" points="1171.24,802.35 1165.24,796.95 1176.44,787.85"/>
<line class="gt" x1="1168.94" y1="796.95" x2="1173.54" y2="796.95"/>
<line class="gt" x1="1175.74" y1="796.95" x2="1178.74" y2="796.95"/>
<line class="g" x1="1171.24" y1="787.35" x2="1171.24" y2="806.15"/>
<circle class="g" cx="1157.3" cy="779.58" r="1.4"/>
<polyline class="g" points="1234.94,454.99 1232.6,475.13 1237.75,477.47"/>
<polyline class="g" points="1237.75,455.46 1235.41,475.6"/>
<polyline class="gt" points="1232.13,462.01 1239.16,463.42"/>
<polyline class="gt" points="1231.66,468.1 1237.75,469.23"/>
<polyline class="g" points="1234.94,454.99 1237.75,455.46"/>
<polyline class="g2" points="1176.74,836.25 1237.16,852.41 1237.16,861.54"/>
<polyline class="g2" points="1176.74,836.25 1167.61,852.41 1169.01,888.94"/>
<polyline class="g" points="1177.16,838.36 1170.14,852.41 1170.7,887.53 1172.53,891.05"/>
<circle class="g" cx="1173.93" cy="852.41" r="2.4"/>
<line class="gt" x1="1170.63" y1="852.41" x2="1177.23" y2="852.41"/>
<line class="g" x1="1173.93" y1="844.41" x2="1173.93" y2="861.41"/>
<polyline class="g" points="1174.93,847.41 1179.93,852.41 1174.93,857.41"/>
<polyline class="g2" points="1251.21,891.75 1263.86,879.1"/>
<polyline class="g2" points="1263.44,817.98 1263.44,831.33"/>
<polyline class="g" points="1264,867.16 1264,879.1"/>
<circle cx="1181.66" cy="846.37" r="1.15" fill="#a0a0a0" stroke="#8c8c8c" stroke-width=".7"/>
<circle cx="1221" cy="846.37" r="1.15" fill="#a0a0a0" stroke="#8c8c8c" stroke-width=".7"/>
<circle cx="1260.34" cy="846.37" r="1.15" fill="#a0a0a0" stroke="#8c8c8c" stroke-width=".7"/>
<circle class="g" cx="1160.16" cy="834.84" r="1.4"/>
<line class="g2" x1="1098.7" y1="475" x2="1168.31" y2="894.6"/>
<line class="gt" x1="1097.6" y1="481" x2="1166.22" y2="894.6"/>
<line class="g" x1="1094.6" y1="490" x2="1161.48" y2="894.6"/>
<line class="g" x1="1094.6" y1="490" x2="1100.5" y2="490"/>
<line class="gt" x1="1096" y1="496" x2="1104" y2="494"/>
<circle class="g" cx="1100" cy="501.8" r="1.45"/>
<circle class="g" cx="1106.22" cy="540.1" r="1.45"/>
<circle class="g" cx="1112.44" cy="578.4" r="1.45"/>
<circle class="g" cx="1118.66" cy="616.7" r="1.45"/>
<circle class="g" cx="1124.88" cy="655" r="1.45"/>
<circle class="g" cx="1131.1" cy="693.3" r="1.45"/>
<circle class="g" cx="1137.32" cy="731.6" r="1.45"/>
<circle class="g" cx="1143.54" cy="769.9" r="1.45"/>
<circle class="g" cx="1149.76" cy="808.2" r="1.45"/>
<circle class="g" cx="1155.98" cy="846.5" r="1.45"/>
<circle class="g" cx="1162.2" cy="884.8" r="1.45"/>
<polygon class="g2" points="1108.1,584.23 1113.09,576.74 1117.46,590.47"/>
<line class="g" x1="1161.5" y1="894.6" x2="1168.5" y2="894.6"/>
<line class="gt" x1="1162.5" y1="898" x2="1167.5" y2="898"/>
<line class="gt" x1="1165.5" y1="880" x2="1165.5" y2="908"/>
<line class="gt" x1="1165" y1="891" x2="1175" y2="891"/>
<polyline class="g" points="1011,675.62 1059.75,662.5"/>
<polyline class="g" points="1062.88,675 1090.62,776.88 1041.88,790 1032.75,760.62 1030.62,761 1029.75,756.25"/>
<polyline class="g" points="1034.38,665.62 1067.5,788.75"/>
<polyline class="g" points="1020.62,721.25 1026.88,746.25"/>
<polyline class="g" points="1065,670.62 1122.5,670.62 1136.25,756.88 1086.25,756.88 1062.88,675"/>
<circle class="g" cx="1098.12" cy="714.38" r="12.6"/>
<circle class="g" cx="1098.12" cy="714.38" r="9"/>
<polyline class="g" points="1091.36,716.19 1104.89,712.56"/>
<polyline class="g" points="1096.31,707.61 1099.94,721.14"/>
<polyline class="g" points="1089.38,688.75 1107.5,683.75 1121.88,734.38 1103.75,739.38"/>
<polyline class="g2" points="1071.5,693.75 1083.5,746.5"/>
<polyline class="g" points="1067.5,703.12 1112.5,690.62"/>
<polyline class="g" points="1076.25,738.12 1121.88,726.25"/>
<polyline class="gt" points="1075,695 1108.75,685.62"/>
<polyline class="gt" points="1085,734.38 1120,725"/>
<polyline class="g2" points="1091,689.38 1094,700.62"/>
<polyline class="gt" points="1092.75,689 1095.38,700"/>
<polyline class="g2" points="1100.62,727.5 1103.5,738.75"/>
<polyline class="gt" points="1102.25,727.12 1105,738.12"/>
<path class="g" d="M1067.5,693.12 L1070,692.5 Q1069.38,685.62 1073.75,683.75 L1085,680.25"/>
<path class="g" d="M1085.62,683.12 L1075.62,686.25 Q1072.25,687.5 1073.75,693.12 L1075,693.5 L1087.5,689.75"/>
<path class="g" d="M1081.88,747.25 L1084,746.88 Q1086.25,753.12 1090.62,753.12 L1103.12,749.38"/>
<path class="g" d="M1086.25,743.75 L1087.5,747.5 Q1088.75,750.62 1091.88,749.75 L1102.5,746.5"/>
<line class="g2" x1="1027" y1="917" x2="1058.3" y2="917"/>
<line class="g2" x1="1026.5" y1="950.2" x2="1058.5" y2="950.2"/>
<line class="g" x1="1069.9" y1="887" x2="1069.9" y2="926.5"/>
<line class="gt" x1="1064.5" y1="904" x2="1075.5" y2="915"/>
<line class="gt" x1="1075.5" y1="904" x2="1064.5" y2="915"/>
<line class="g" x1="1060" y1="935.7" x2="1174.5" y2="935.7"/>
<line class="g" x1="1060" y1="961.5" x2="1180.5" y2="961.5"/>
<line class="g" x1="1256.5" y1="935" x2="1273.75" y2="935"/>
<line class="g" x1="1250" y1="961.3" x2="1273.75" y2="961.3"/>
<line class="g" x1="1273.75" y1="917.5" x2="1273.75" y2="995"/>
<line class="g" x1="1169.8" y1="916.2" x2="1190.3" y2="993.8"/>
<line class="g" x1="1262.5" y1="917.5" x2="1241.3" y2="995"/>
<line class="g" x1="1197.5" y1="1018.5" x2="1236.5" y2="1018.5"/>
<line class="gt" x1="1197.5" y1="1021.5" x2="1236.5" y2="1021.5"/>
<path class="k" d="M359.4,366.8 H403 V364.8 A38,38 0 0 1 379.1,356.2 H359.6 "/>
<path class="k" d="M360.5,356.2 V344.5 H340.9 V299.3 H360.5 V288.2 M358.4,288.2 H379.1 A38.8,38.8 0 0 1 426.9,288.2 H448.4 M446.6,288.2 V318 Q449,319.5 448.8,322 Q448.8,324.6 446.4,325.4 V328 H484.2 Q487.8,328.3 487.8,332 V411.3"/>
<path class="k" d="M359.4,366.8 Q358.6,368.2 360.8,369.6 V376.9 L278.8,444.2 H264.6 V470"/>
<path class="k" d="M487.4,411.3 L527.4,444.2 H540.6 L542,446 V898.8"/>
<line class="kb" x1="264.6" y1="444.2" x2="264.6" y2="475.1"/>
<line class="kb" x1="264.6" y1="503" x2="264.6" y2="549.2"/>
<line class="kb" x1="264.6" y1="577.1" x2="264.6" y2="623.3"/>
<line class="kb" x1="264.6" y1="651.2" x2="264.6" y2="697.4"/>
<line class="kb" x1="264.6" y1="725.3" x2="264.6" y2="771.5"/>
<line class="kb" x1="264.6" y1="799.4" x2="264.6" y2="827.2"/>
<line class="kb" x1="264.6" y1="855.1" x2="264.6" y2="898.8"/>
<path class="k3" d="M259.6,470.5 V474 Q259.6,476 262,475.7 L264.5,474.9"/>
<path class="k" d="M259.2,485 V493.8 H255.3 V502.5 H259.6"/>
<path class="k3" d="M259.6,502.5 V510.2 M260.3,501.5 L264.5,503.8"/>
<path class="k3" d="M259.6,544.6 V548.1 Q259.6,550.1 262,549.8 L264.5,549"/>
<path class="k" d="M259.2,559.1 V567.9 H255.3 V576.6 H259.6"/>
<path class="k3" d="M259.6,576.6 V584.3 M260.3,575.6 L264.5,577.9"/>
<path class="k3" d="M259.6,618.7 V622.2 Q259.6,624.2 262,623.9 L264.5,623.1"/>
<path class="k" d="M259.2,633.2 V642 H255.3 V650.7 H259.6"/>
<path class="k3" d="M259.6,650.7 V658.4 M260.3,649.7 L264.5,652"/>
<path class="k3" d="M259.6,692.8 V696.3 Q259.6,698.3 262,698 L264.5,697.2"/>
<path class="k" d="M259.2,707.3 V716.1 H255.3 V724.8 H259.6"/>
<path class="k3" d="M259.6,724.8 V732.5 M260.3,723.8 L264.5,726.1"/>
<path class="k3" d="M259.6,766.9 V770.4 Q259.6,772.4 262,772.1 L264.5,771.3"/>
<path class="k" d="M259.2,781.4 V790.2 H255.3 V798.9 H259.6"/>
<path class="k3" d="M259.6,798.9 V806.6 M260.3,797.9 L264.5,800.2"/>
<path class="k3" d="M259.6,822.6 V826.1 Q259.6,828.1 262,827.8 L264.5,827"/>
<path class="k" d="M259.2,837.1 V845.9 H255.3 V854.6 H259.6"/>
<path class="k3" d="M259.6,854.6 V862.3 M260.3,853.6 L264.5,855.9"/>
<path class="k" d="M264.6,898.8 H243.6 V914 H233.2 Q230.2,914 230.2,917 V1050.4 H281.8 M264.6,1048 V948.2 H315"/>
<path class="k" d="M264.6,1048.3 H281.8"/>
<path class="k" d="M315,948.2 L382.8,1014 V1023.6 H423.7 V1014 L542,900.3"/>
<circle class="k" cx="382" cy="1022.4" r="1.3"/>
<circle class="k" cx="424.5" cy="1022.4" r="1.3"/>
<path class="k" d="M542,898.8 H563 V914 H577 V1050.4 H525 M542.1,1048 V914 H549.1 V900"/>
<path class="k" d="M525,1048.3 H542"/>
<path class="k" d="M1094.1,332 V290 H1180.1 V329.5"/>
<line class="k" x1="1188.3" y1="332" x2="1207.6" y2="332"/>
<path class="k" d="M1094.1,332 H1028.75 V670.6 L1011,675.6 L1018.75,705 L1016.25,705.9 L1019.75,719.4 L1007.75,723.1 L1014.75,750.6 L1028.1,746.9 L1029.3,752.5 V913.9"/>
<path class="k" d="M1028.75,332 L1049.5,353.2 V665.6 L1059.75,662.5 L1062.9,675 L1097.6,473.75 V447.4 H1110.4"/>
<path class="k" d="M1208,342.7 V290 H1249.6 V331.6 H1256.6 V352.8 H1247.9"/>
<path class="k" d="M1206.6,343.3 H1208.3 L1211.3,358.7 H1246.2 L1247.8,352.8"/>
<line class="k" x1="1092.6" y1="369.6" x2="1181.6" y2="369.6"/>
<circle class="k" cx="1092.8" cy="370.4" r="0.9"/>
<circle class="k" cx="1181.4" cy="370.4" r="0.9"/>
<path class="k" d="M1093.8,370 V379.1 L1110.4,447.3 M1180.4,370 V379.1 L1163.8,447.3"/>
<line class="k" x1="1206.9" y1="369.6" x2="1251.4" y2="369.6"/>
<circle class="k" cx="1207.1" cy="370.4" r="0.9"/>
<circle class="k" cx="1251.2" cy="370.4" r="0.9"/>
<path class="k" d="M1208,370 V385.7 M1249.6,370 V385.7 M1208,386.2 H1189.8 V447.3 M1249.6,386.2 H1253.6 V447.3"/>
<path class="k" d="M1163.8,447.4 H1176 M1181,447.4 H1189.8 M1253.6,447.4 H1264.6 L1265.7,448.6 V902.7"/>
<path class="k" d="M1026.4,913.9 H1058.4 M1025.1,917 V1051 M1060,916.2 V1051"/>
<path class="k" d="M1026.4,913.9 Q1025,914.5 1025.1,917 M1058.4,913.9 Q1060,914.5 1060,916.5"/>
<line class="k" x1="1023.4" y1="1052.6" x2="1062.4" y2="1052.6"/>
<line class="k" x1="1023.4" y1="1051" x2="1062.4" y2="1051"/>
<path class="k" d="M1063.2,916.2 V902.6 L1070,910.6 L1076.9,902.6 V916.2"/>
<path class="k" d="M1060,916.2 H1169.8 L1166.2,902.7 H1158.8"/>
<line class="k" x1="1158.5" y1="902.7" x2="1164.5" y2="902.7"/>
<path class="k" d="M1060,993.8 H1190.3 L1196.6,1017.7 V1024 M1195.2,1025 H1238.6 M1237.2,1024 V1018.7 L1241.3,995 H1274.5 V1051"/>
<path class="k" d="M1274.4,902.7 H1265.4 L1262.5,917.5 H1283.75 L1310,942.5 V975.5 L1309,977 V1051"/>
<line class="k" x1="1266" y1="902.7" x2="1274.4" y2="902.7"/>
<line class="k" x1="1272" y1="1052.6" x2="1310.8" y2="1052.6"/>
<line class="k" x1="1272" y1="1051" x2="1310.8" y2="1051"/>
</svg>
</body></html>
